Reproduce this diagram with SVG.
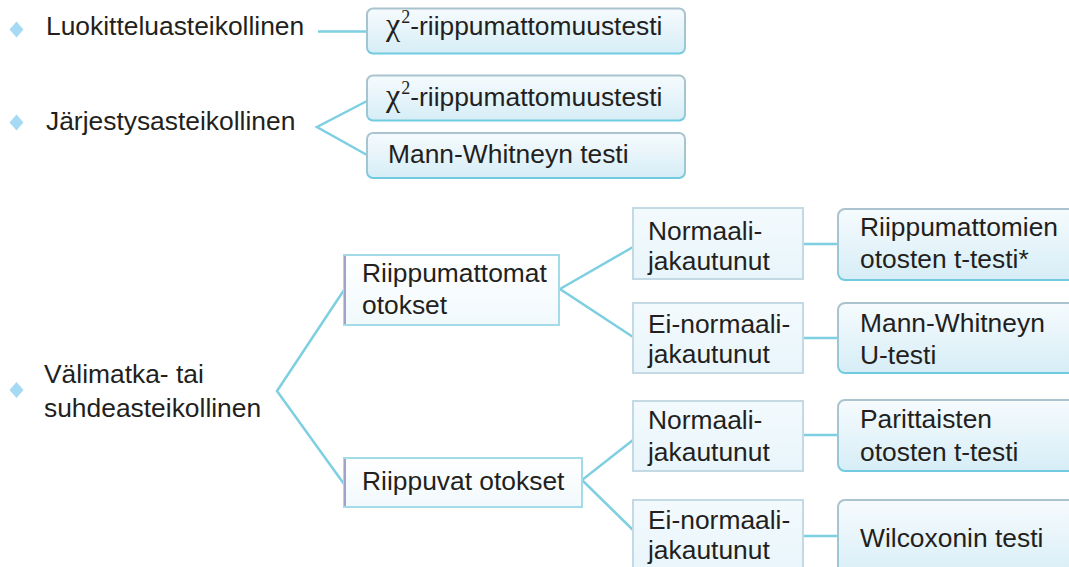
<svg xmlns="http://www.w3.org/2000/svg" width="1069" height="567" viewBox="0 0 1069 567">
<defs>
<linearGradient id="gRes" x1="0" y1="0" x2="0" y2="1">
<stop offset="0" stop-color="#f6fbfd"/>
<stop offset="0.5" stop-color="#e6f4fa"/>
<stop offset="1" stop-color="#d6edf6"/>
</linearGradient>
<linearGradient id="gResStroke" x1="0" y1="0" x2="0" y2="1">
<stop offset="0" stop-color="#aac3ce"/>
<stop offset="0.85" stop-color="#9cc7d6"/>
<stop offset="1" stop-color="#6fcbe0"/>
</linearGradient>
<linearGradient id="gMid" x1="0" y1="0" x2="0" y2="1">
<stop offset="0" stop-color="#f3fafd"/>
<stop offset="1" stop-color="#e8f5fb"/>
</linearGradient>
<linearGradient id="gLvl" x1="0" y1="0" x2="0" y2="1">
<stop offset="0" stop-color="#ffffff"/>
<stop offset="1" stop-color="#f1f9fc"/>
</linearGradient>
</defs>
<style>
text { font-family: "Liberation Sans", Arial, sans-serif; font-size: 26.4px; fill: #231f20; }
.sym { font-family: "Liberation Serif", "DejaVu Serif", serif; }
.bullet { fill: #a6daf4; }
.conn { fill: none; stroke: #7dcfe1; stroke-width: 2.5; }
.res { fill: url(#gRes); stroke: url(#gResStroke); stroke-width: 2; }
.mid { fill: url(#gMid); stroke: #c3d9e3; stroke-width: 2; }
.lvl { fill: url(#gLvl); stroke: #a4dbe9; stroke-width: 2; }
.lvlL { stroke: #a2a2c8; stroke-width: 2; }
</style>
<rect width="1069" height="567" fill="#ffffff"/>

<g id="connectors">
<path class="conn" d="M318 31.5 H367"/>
<path class="conn" d="M367 101 L317 127 L367 155"/>
<path class="conn" d="M344 290 L277 391 L344 484"/>
<path class="conn" d="M633 247 L560 289 L633 337"/>
<path class="conn" d="M803 244 H838"/>
<path class="conn" d="M803 338 H838"/>
<path class="conn" d="M633 440 L582 480 L633 530"/>
<path class="conn" d="M803 435 H838"/>
<path class="conn" d="M803 536 H838"/>
</g>

<g id="luokittelu">
<path class="bullet" d="M16.5 21.5 L23.5 29.5 L16.5 37.5 L9.5 29.5 Z"/>
<text x="46" y="35">Luokitteluasteikollinen</text>
</g>
<g id="jarjestys">
<path class="bullet" d="M16.5 114.5 L23.5 122.5 L16.5 130.5 L9.5 122.5 Z"/>
<text x="46" y="130">Järjestysasteikollinen</text>
</g>
<g id="valimatka">
<path class="bullet" d="M16.5 382 L23.5 390 L16.5 398 L9.5 390 Z"/>
<text x="44" y="383">Välimatka- tai</text>
<text x="44" y="417">suhdeasteikollinen</text>
</g>

<g id="chi1">
<rect class="res" x="367" y="8.5" width="318" height="45" rx="6"/>
<text x="386" y="35"><tspan class="sym" font-size="32">χ</tspan><tspan class="sym" font-size="18" dx="1" dy="-12">2</tspan><tspan dy="12">-riippumattomuustesti</tspan></text>
</g>
<g id="chi2">
<rect class="res" x="367" y="75.5" width="318" height="45" rx="6"/>
<text x="386" y="106"><tspan class="sym" font-size="32">χ</tspan><tspan class="sym" font-size="18" dx="1" dy="-12">2</tspan><tspan dy="12">-riippumattomuustesti</tspan></text>
</g>
<g id="mannwhitney1">
<rect class="res" x="367" y="133" width="318" height="45" rx="6"/>
<text x="388" y="163">Mann-Whitneyn testi</text>
</g>

<g id="riippumattomat">
<rect class="lvl" x="344" y="255" width="215" height="70"/>
<line class="lvlL" x1="345" y1="256" x2="345" y2="324"/>
<text x="362" y="282">Riippumattomat</text>
<text x="362" y="314">otokset</text>
</g>
<g id="riippuvat">
<rect class="lvl" x="344" y="458" width="238" height="49"/>
<line class="lvlL" x1="345" y1="459" x2="345" y2="506"/>
<text x="362" y="490">Riippuvat otokset</text>
</g>

<g id="normaali1">
<rect class="mid" x="633" y="208" width="170" height="71"/>
<text x="648" y="240">Normaali-</text>
<text x="648" y="270">jakautunut</text>
</g>
<g id="einormaali1">
<rect class="mid" x="633" y="303" width="170" height="70"/>
<text x="648" y="333">Ei-normaali-</text>
<text x="648" y="363">jakautunut</text>
</g>
<g id="normaali2">
<rect class="mid" x="633" y="401" width="170" height="70"/>
<text x="648" y="429">Normaali-</text>
<text x="648" y="461">jakautunut</text>
</g>
<g id="einormaali2">
<rect class="mid" x="633" y="500" width="170" height="72"/>
<text x="648" y="529">Ei-normaali-</text>
<text x="648" y="559">jakautunut</text>
</g>

<g id="ttesti">
<rect class="res" x="838" y="209" width="250" height="71" rx="7"/>
<text x="860" y="236">Riippumattomien</text>
<text x="860" y="268">otosten t-testi*</text>
</g>
<g id="mannwhitney2">
<rect class="res" x="838" y="303" width="250" height="70" rx="7"/>
<text x="860" y="332">Mann-Whitneyn</text>
<text x="860" y="364">U-testi</text>
</g>
<g id="parittaisten">
<rect class="res" x="838" y="400" width="250" height="71" rx="7"/>
<text x="860" y="428">Parittaisten</text>
<text x="860" y="461">otosten t-testi</text>
</g>
<g id="wilcoxon">
<rect class="res" x="838" y="500" width="250" height="80" rx="7"/>
<text x="860" y="547">Wilcoxonin testi</text>
</g>
</svg>
